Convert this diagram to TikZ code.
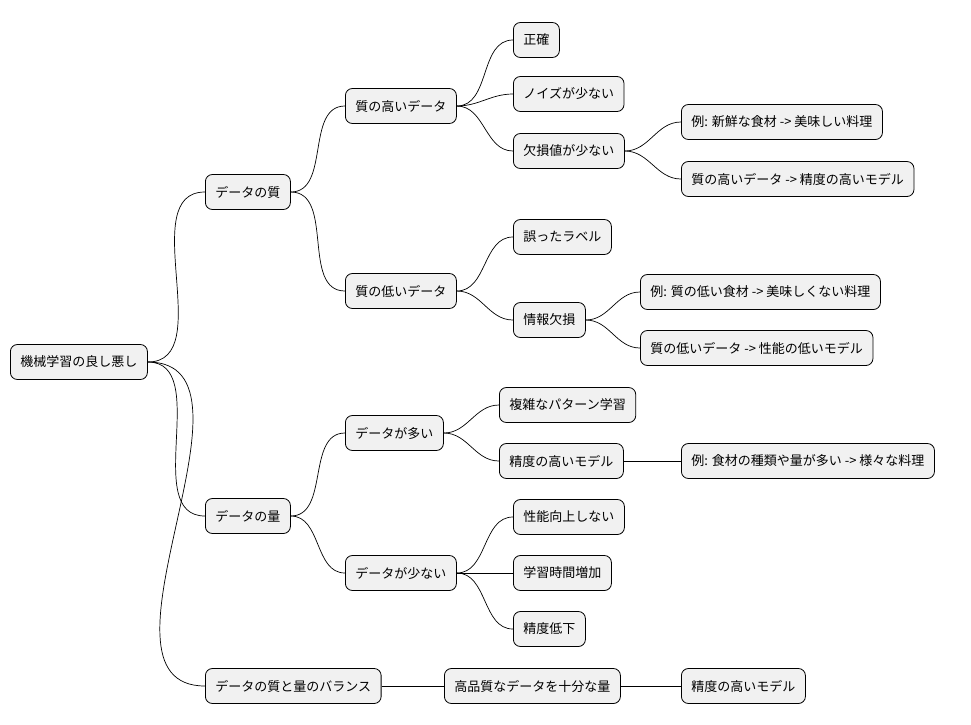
\documentclass[tikz,border=0pt]{standalone}
\usepackage{fontspec}
\setmainfont{Noto Sans CJK JP}
\begin{document}
\begin{tikzpicture}[x=1pt,y=-1pt,
  n/.style={draw=black,line width=0.8pt,fill=gray!11,rounded corners=7pt,minimum height=35pt,inner xsep=10pt,anchor=west,font=\fontsize{13}{15}\selectfont},
  c/.style={draw=black,line width=0.7pt}]
\useasboundingbox (0,0) rectangle (971,724);
\node[n] (r) at (10,362) {機械学習の良し悪し};
\node[n] (q) at (205,192) {データの質};
\node[n] (v) at (205,516) {データの量};
\node[n] (b) at (205,686) {データの質と量のバランス};
\node[n] (qh) at (345,106) {質の高いデータ};
\node[n] (ql) at (345,291) {質の低いデータ};
\node[n] (vm) at (345,433) {データが多い};
\node[n] (vf) at (345,573) {データが少ない};
\node[n] (a1) at (513,40) {正確};
\node[n] (a2) at (513,94) {ノイズが少ない};
\node[n] (a3) at (513,151) {欠損値が少ない};
\node[n] (b1) at (513,237) {誤ったラベル};
\node[n] (b2) at (513,320) {情報欠損};
\node[n] (c1) at (499,405) {複雑なパターン学習};
\node[n] (c2) at (499,461) {精度の高いモデル};
\node[n] (d1) at (513,517) {性能向上しない};
\node[n] (d2) at (513,573) {学習時間増加};
\node[n] (d3) at (513,629) {精度低下};
\node[n] (e1) at (444,686) {高品質なデータを十分な量};
\node[n] (f1) at (681,122) {例: 新鮮な食材 -> 美味しい料理};
\node[n] (f2) at (681,179) {質の高いデータ -> 精度の高いモデル};
\node[n] (g1) at (640,292) {例: 質の低い食材 -> 美味しくない料理};
\node[n] (g2) at (640,348) {質の低いデータ -> 性能の低いモデル};
\node[n] (h1) at (681,461) {例: 食材の種類や量が多い -> 様々な料理};
\node[n] (e2) at (681,686) {精度の高いモデル};
\foreach \p/\ch in {r/q,r/v,r/b,q/qh,q/ql,v/vm,v/vf,qh/a1,qh/a2,qh/a3,ql/b1,ql/b2,vm/c1,vm/c2,vf/d1,vf/d2,vf/d3,a3/f1,a3/f2,b2/g1,b2/g2}
  \draw[c] (\p.east) to[out=0,in=180] (\ch.west);
\draw[c] (b.east) -- (e1.west);
\draw[c] (e1.east) -- (e2.west);
\draw[c] (c2.east) -- (h1.west);
\end{tikzpicture}
\end{document}
